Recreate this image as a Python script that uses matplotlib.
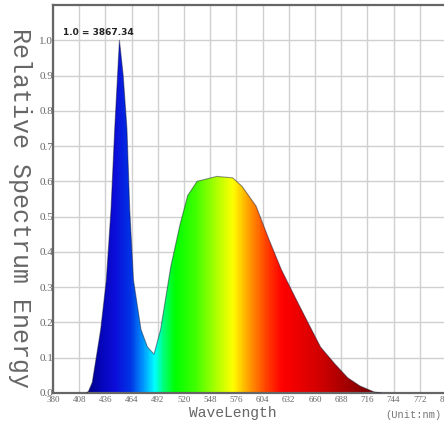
import numpy as np
import matplotlib
matplotlib.use("Agg")
import matplotlib.pyplot as plt
from matplotlib.colors import LinearSegmentedColormap

# Data
wavelength = [416, 418, 422, 425, 431, 437, 442, 446, 449, 451, 455, 459, 462,
              466, 474, 481, 488, 495, 506, 516, 524, 534, 555, 572, 582, 597,
              611, 624, 639, 653, 666, 681, 695, 708, 723, 730]
energy = [0.0, 0.005, 0.03, 0.08, 0.18, 0.32, 0.52, 0.75, 0.9, 1.0, 0.9, 0.75, 0.52,
          0.32, 0.18, 0.13, 0.11, 0.18, 0.36, 0.48, 0.56, 0.60, 0.614, 0.61, 0.586, 0.53,
          0.434, 0.35, 0.27, 0.197, 0.13, 0.083, 0.043, 0.02, 0.003, 0.0]
xticks = [380, 408, 436, 464, 492, 520, 548, 576, 604, 632, 660, 688, 716, 744, 772, 800]
yticks = [0.0, 0.1, 0.2, 0.3, 0.4, 0.5, 0.6, 0.7, 0.8, 0.9, 1.0]
note = "1.0 = 3867.34"

xmin, xmax = 380, 793
ymin, ymax = 0, 1.1

fig = plt.figure(figsize=(4.44, 4.30), dpi=100)
ax = fig.add_axes([53/444, (430-393)/430, (446-53)/444, (393-5)/430])
ax.set_xlim(xmin, xmax)
ax.set_ylim(ymin, ymax)

# spectral colormap by wavelength
stops = [(380, (0, 0, 0.5)), (415, (0, 0, 0.5)), (430, (0.02, 0.02, 0.72)),
         (445, (0.05, 0.05, 0.85)), (462, (0.0, 0.2, 0.9)), (476, (0.0, 0.6, 1.0)),
         (488, (0.0, 1.0, 1.0)), (498, (0.0, 1.0, 0.45)), (510, (0.0, 1.0, 0.0)),
         (532, (0.25, 1.0, 0.0)), (555, (0.7, 1.0, 0.0)), (572, (1.0, 1.0, 0.0)),
         (590, (1.0, 0.6, 0.0)), (608, (1.0, 0.25, 0.0)), (625, (1.0, 0.0, 0.0)),
         (665, (0.82, 0.0, 0.0)), (700, (0.6, 0.0, 0.0)), (730, (0.42, 0.0, 0.0)),
         (793, (0.4, 0.0, 0.0))]
cmap = LinearSegmentedColormap.from_list(
    "spec", [((w - xmin) / (xmax - xmin), c) for w, c in stops])

ax.grid(True, color="#d0d0d0", linewidth=1.0)
ax.set_axisbelow(True)

poly = ax.fill_between(wavelength, energy, 0, color="none", linewidth=0)
grad = np.linspace(xmin, xmax, 600).reshape(1, -1)
im = ax.imshow(grad, extent=(xmin, xmax, ymin, ymax), aspect="auto",
               cmap=cmap, vmin=xmin, vmax=xmax, origin="lower", zorder=2)
path = poly.get_paths()[0]
im.set_clip_path(path, transform=ax.transData)
ax.plot(wavelength, energy, color="#101030", alpha=0.45, linewidth=0.8, zorder=3)

ax.set_xticks(xticks)
ax.set_xticklabels([str(t) for t in xticks])
ax.set_yticks(yticks)
ax.set_yticklabels([f"{t:.1f}" for t in yticks])
ax.tick_params(axis="x", length=0, labelsize=6.5, labelcolor="#666666", pad=2)
ax.tick_params(axis="y", length=0, labelsize=8, labelcolor="#666666", pad=0)
for lab in ax.get_xticklabels() + ax.get_yticklabels():
    lab.set_family("Liberation Serif")

for s in ["left", "top", "bottom"]:
    ax.spines[s].set_color("#666666")
    ax.spines[s].set_linewidth(1.6)
ax.spines["right"].set_visible(False)

ax.text(0.025, 0.93, note, transform=ax.transAxes, fontsize=6.5,
        fontweight="bold", color="#222222", va="center", ha="left",
        family="DejaVu Sans")

fig.text(20/444, 1 - 208/430, "Relative Spectrum Energy", rotation=270,
         family="Liberation Mono", fontsize=18, color="#666666",
         ha="center", va="center")
fig.text(233/444, 1 - 413/430, "WaveLength", family="Liberation Mono",
         fontsize=10.5, color="#666666", ha="center", va="center")
fig.text(385/444, 1 - 415/430, "(Unit:nm)", family="Liberation Mono",
         fontsize=7.5, color="#777777", ha="left", va="center")

fig.savefig("out.png", dpi=100)
